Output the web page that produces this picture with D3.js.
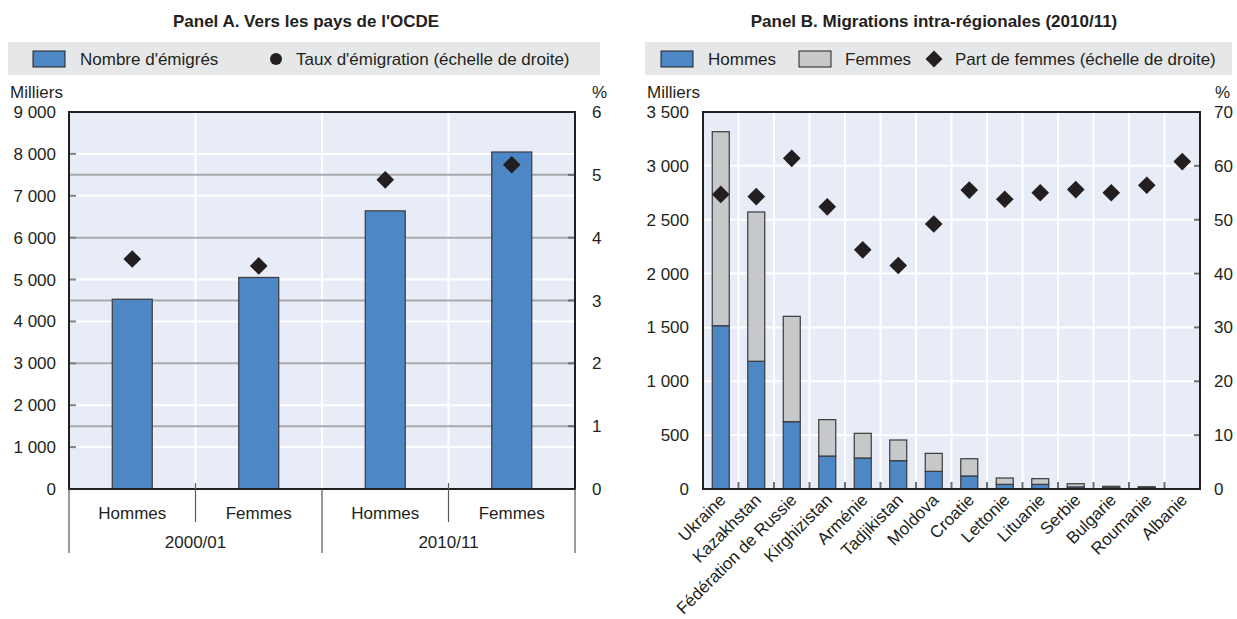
<!DOCTYPE html>
<html><head><meta charset="utf-8">
<script src="https://cdn.jsdelivr.net/npm/d3@7"></script>
<style>
body{margin:0;background:#fff;}
svg{font-family:"Liberation Sans Narrow","Arial Narrow","Liberation Sans",sans-serif;}
</style></head>
<body><svg id="c" width="1237" height="619"></svg>
<script>
// Panel A data
const aCats = ["Hommes","Femmes","Hommes","Femmes"];
const aGroups = ["2000/01","2010/11"];
const aEmigres = [4530, 5050, 6640, 8045];
const aTaux = [3.66, 3.55, 4.92, 5.16];
const aLeftTicks = [0,1000,2000,3000,4000,5000,6000,7000,8000,9000];
const aRightTicks = [0,1,2,3,4,5,6];

// Panel B data
const bCountries = ["Ukraine","Kazakhstan","Fédération de Russie","Kirghizistan","Arménie","Tadjikistan","Moldova","Croatie","Lettonie","Lituanie","Serbie","Bulgarie","Roumanie","Albanie"];
const bHommes = [1516, 1186, 625, 306, 288, 263, 164, 121, 43, 43, 19, 12, 10, 0];
const bFemmes = [1801, 1386, 978, 338, 229, 192, 167, 160, 59, 53, 30, 13, 11, 0];
const bPart = [54.7, 54.3, 61.4, 52.4, 44.4, 41.5, 49.2, 55.5, 53.8, 55.0, 55.6, 55.0, 56.4, 60.8];
const bLeftTicks = [0,500,1000,1500,2000,2500,3000,3500];
const bRightTicks = [0,10,20,30,40,50,60,70];

const BLUE="#4e87c6", GRAY="#c7c8ca", DARK="#231f20", PLOT="#e8ecf6", LEG="#e6e7e8", GRID2="#a7a9ac";
const fmt = v => d3.format(",")(v).replace(/,/g," ");
const svg = d3.select("#c");
const FS = 17;
const TFS = 17;

function diamond(g, x, y, s){
  g.append("path").attr("d", d3.symbol(d3.symbolSquare, s*s)()).attr("transform",`translate(${x},${y}) rotate(45)`).attr("fill",DARK);
}

// ---------------- Panel A ----------------
{
  const L=69,R=575,T=112,B=489;
  const g = svg.append("g");
  g.append("text").attr("x",306).attr("y",27).attr("text-anchor","middle").attr("font-weight","bold").attr("font-size",TFS).attr("fill",DARK).text("Panel A. Vers les pays de l'OCDE");
  // legend
  g.append("rect").attr("x",8).attr("y",42).attr("width",592).attr("height",33).attr("fill",LEG);
  g.append("rect").attr("x",33).attr("y",51).attr("width",32).attr("height",16).attr("fill",BLUE).attr("stroke",DARK).attr("stroke-width",1);
  g.append("text").attr("x",80).attr("y",65).attr("font-size",FS).attr("fill",DARK).text("Nombre d'émigrés");
  g.append("circle").attr("cx",276).attr("cy",59).attr("r",6).attr("fill",DARK);
  g.append("text").attr("x",296).attr("y",65).attr("font-size",FS).attr("fill",DARK).text("Taux d'émigration (échelle de droite)");

  const x = d3.scaleBand().domain(d3.range(aCats.length)).range([L,R]).paddingInner(0).paddingOuter(0);
  const y = d3.scaleLinear().domain([0,9000]).range([B,T]);
  const y2 = d3.scaleLinear().domain([0,6]).range([B,T]);

  g.append("rect").attr("x",L).attr("y",T).attr("width",R-L).attr("height",B-T).attr("fill",PLOT);
  g.selectAll(".gw").data(aLeftTicks.slice(1,-1)).join("line").attr("x1",L).attr("x2",R).attr("y1",d=>y(d)).attr("y2",d=>y(d)).attr("stroke","#fff").attr("stroke-width",2);
  g.selectAll(".vw").data(d3.range(1,aCats.length)).join("line").attr("x1",d=>x(d)).attr("x2",d=>x(d)).attr("y1",T).attr("y2",B).attr("stroke","#fff").attr("stroke-width",2);
  g.selectAll(".gg").data(aRightTicks.slice(1,-1)).join("line").attr("x1",L).attr("x2",R).attr("y1",d=>y2(d)).attr("y2",d=>y2(d)).attr("stroke",GRID2).attr("stroke-width",2);
  g.selectAll(".lt").data(aLeftTicks.slice(1,-1)).join("line").attr("x1",L).attr("x2",L+7).attr("y1",d=>y(d)).attr("y2",d=>y(d)).attr("stroke","#808285").attr("stroke-width",2);
  g.selectAll(".rt").data(aRightTicks.slice(1,-1)).join("line").attr("x1",R-7).attr("x2",R).attr("y1",d=>y2(d)).attr("y2",d=>y2(d)).attr("stroke","#6d6e71").attr("stroke-width",2);

  const bw = 40;
  g.selectAll(".bar").data(aEmigres).join("rect").attr("x",(d,i)=>x(i)+x.bandwidth()/2-bw/2).attr("y",d=>y(d)).attr("width",bw).attr("height",d=>B-y(d)).attr("fill",BLUE).attr("stroke","#3a3a3c").attr("stroke-width",1.2);
  aTaux.forEach((v,i)=>diamond(g, x(i)+x.bandwidth()/2, y2(v), 12.5));

  g.append("rect").attr("x",L).attr("y",T).attr("width",R-L).attr("height",B-T).attr("fill","none").attr("stroke",DARK).attr("stroke-width",2);

  g.selectAll(".ll").data(aLeftTicks).join("text").attr("x",56).attr("y",d=>y(d)+6).attr("text-anchor","end").attr("font-size",FS).attr("fill",DARK).text(fmt);
  g.selectAll(".rl").data(aRightTicks).join("text").attr("x",592).attr("y",d=>y2(d)+6).attr("font-size",FS).attr("fill",DARK).text(d=>d);
  g.append("text").attr("x",10).attr("y",98).attr("font-size",FS).attr("fill",DARK).text("Milliers");
  g.append("text").attr("x",592).attr("y",98).attr("font-size",FS).attr("fill",DARK).text("%");

  d3.range(0,aCats.length+1).forEach(i=>{
    const xx = i<aCats.length ? x(i) : R;
    const major = i%2===0;
    g.append("line").attr("x1",xx).attr("x2",xx).attr("y1",major?B:B-6).attr("y2",major?553:522).attr("stroke","#58595b").attr("stroke-width",1.2);
  });
  g.selectAll(".cl").data(aCats).join("text").attr("x",(d,i)=>x(i)+x.bandwidth()/2).attr("y",519).attr("text-anchor","middle").attr("font-size",FS).attr("fill",DARK).text(d=>d);
  g.selectAll(".gl").data(aGroups).join("text").attr("x",(d,i)=>(x(i*2)+x(i*2+1)+x.bandwidth())/2).attr("y",548).attr("text-anchor","middle").attr("font-size",FS).attr("fill",DARK).text(d=>d);
}

// ---------------- Panel B ----------------
{
  const L=703,R=1200,T=112,B=489;
  const g = svg.append("g");
  g.append("text").attr("x",934).attr("y",27).attr("text-anchor","middle").attr("font-weight","bold").attr("font-size",TFS).attr("fill",DARK).text("Panel B. Migrations intra-régionales (2010/11)");
  g.append("rect").attr("x",645).attr("y",42).attr("width",587).attr("height",33).attr("fill",LEG);
  g.append("rect").attr("x",661).attr("y",51).attr("width",32).attr("height",16).attr("fill",BLUE).attr("stroke",DARK).attr("stroke-width",1);
  g.append("text").attr("x",708).attr("y",65).attr("font-size",FS).attr("fill",DARK).text("Hommes");
  g.append("rect").attr("x",799).attr("y",51).attr("width",32).attr("height",16).attr("fill",GRAY).attr("stroke",DARK).attr("stroke-width",1);
  g.append("text").attr("x",845).attr("y",65).attr("font-size",FS).attr("fill",DARK).text("Femmes");
  diamond(g, 934, 59, 12);
  g.append("text").attr("x",955).attr("y",65).attr("font-size",FS).attr("fill",DARK).text("Part de femmes (échelle de droite)");

  const x = d3.scaleBand().domain(bCountries).range([L,R]);
  const y = d3.scaleLinear().domain([0,3500]).range([B,T]);
  const y2 = d3.scaleLinear().domain([0,70]).range([B,T]);

  g.append("rect").attr("x",L).attr("y",T).attr("width",R-L).attr("height",B-T).attr("fill",PLOT);
  g.selectAll(".gw").data(bLeftTicks.slice(1,-1)).join("line").attr("x1",L).attr("x2",R).attr("y1",d=>y(d)).attr("y2",d=>y(d)).attr("stroke","#fff").attr("stroke-width",2);
  g.selectAll(".vw").data(bCountries.slice(1)).join("line").attr("x1",d=>x(d)).attr("x2",d=>x(d)).attr("y1",T).attr("y2",B).attr("stroke","#fff").attr("stroke-width",2);
  g.selectAll(".vt").data(bCountries.slice(1)).join("line").attr("x1",d=>x(d)).attr("x2",d=>x(d)).attr("y1",B-7).attr("y2",B).attr("stroke","#6d6e71").attr("stroke-width",2);
  g.selectAll(".rt").data(bRightTicks.slice(1,-1)).join("line").attr("x1",R-6).attr("x2",R).attr("y1",d=>y2(d)).attr("y2",d=>y2(d)).attr("stroke","#6d6e71").attr("stroke-width",2);

  const bw = 17;
  const cx = d => x(d)+x.bandwidth()/2;
  g.selectAll(".bh").data(bCountries).join("rect").attr("x",d=>cx(d)-bw/2).attr("y",(d,i)=>y(bHommes[i])).attr("width",bw).attr("height",(d,i)=>B-y(bHommes[i])).attr("fill",BLUE).attr("stroke","#3a3a3c").attr("stroke-width",1.2).attr("display",(d,i)=>bHommes[i]>0?null:"none");
  g.selectAll(".bf").data(bCountries).join("rect").attr("x",d=>cx(d)-bw/2).attr("y",(d,i)=>y(bHommes[i]+bFemmes[i])).attr("width",bw).attr("height",(d,i)=>y(bHommes[i])-y(bHommes[i]+bFemmes[i])).attr("fill",GRAY).attr("stroke","#3a3a3c").attr("stroke-width",1.2).attr("display",(d,i)=>bFemmes[i]>0?null:"none");
  bPart.forEach((v,i)=>diamond(g, cx(bCountries[i]), y2(v), 12.5));

  g.append("rect").attr("x",L).attr("y",T).attr("width",R-L).attr("height",B-T).attr("fill","none").attr("stroke",DARK).attr("stroke-width",2);

  g.selectAll(".ll").data(bLeftTicks).join("text").attr("x",689).attr("y",d=>y(d)+6).attr("text-anchor","end").attr("font-size",FS).attr("fill",DARK).text(fmt);
  g.selectAll(".rl").data(bRightTicks).join("text").attr("x",1214).attr("y",d=>y2(d)+6).attr("font-size",FS).attr("fill",DARK).text(d=>d);
  g.append("text").attr("x",647).attr("y",98).attr("font-size",FS).attr("fill",DARK).text("Milliers");
  g.append("text").attr("x",1215).attr("y",98).attr("font-size",FS).attr("fill",DARK).text("%");

  g.selectAll(".xl").data(bCountries).join("text")
    .attr("transform",d=>`translate(${cx(d)+6},${B+12}) rotate(-45)`)
    .attr("text-anchor","end").attr("font-size",FS).attr("fill",DARK).text(d=>d);
}
</script></body></html>
